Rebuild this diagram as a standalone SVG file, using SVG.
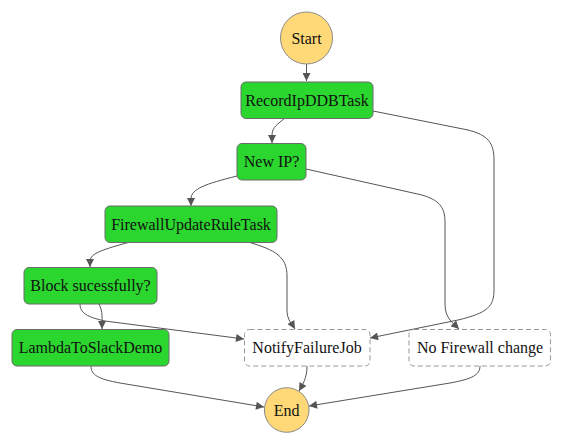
<svg xmlns="http://www.w3.org/2000/svg" width="563" height="445" viewBox="0 0 563 445">
<defs>
<marker id="arr" viewBox="0 0 10 10" refX="10" refY="5" markerUnits="userSpaceOnUse" markerWidth="9" markerHeight="8" orient="auto">
<path d="M0,0 L10,5 L0,10 z" fill="#555"/>
</marker>
<style>
.task rect{fill:#2bd62e;stroke:#6b6b6b;stroke-width:1}
.pass rect{fill:#fff;stroke:#999;stroke-width:1;stroke-dasharray:5,3}
.term circle{fill:#ffd977;stroke:#8a8a8a;stroke-width:1}
text{font-family:"Liberation Serif","Times New Roman",serif;font-size:16px;fill:#111;text-anchor:middle}
.edges path{fill:none;stroke:#555;stroke-width:1;marker-end:url(#arr)}
</style>
</defs>
<rect width="563" height="445" fill="#fff"/>
<g class="edges" id="edges">
<path d="M306.5,64 L306.5,81"/>
<path d="M285,118 C278,124 272,127 272,135 L272,143"/>
<path d="M373,111 L468,130 C488,135 494,143 494,160 L494,290 C494,306 488,313 458,320 L370,338"/>
<path d="M237,176 C205,184 191,189 191,199 L191,206"/>
<path d="M306,169 L422,195 C438,200 445,206 445,222 L445,304 C445,318 452,322 459,329"/>
<path d="M130,242 C105,249 90,253 90,261 L90,267"/>
<path d="M248,242 C276,250 287,257 287,276 L287,310 C287,320 292,324 295,329"/>
<path d="M99,304 C103,312 102,318 102,329"/>
<path d="M80,304 C80,313 87,317 105,321 L244,339"/>
<path d="M91,366 C91,375 98,379 120,383 L264,407"/>
<path d="M307,366 C307,378 303,384 299,391"/>
<path d="M480,366 C480,375 472,379 450,383 L309,406"/>
</g>
<g id="start" class="term"><circle cx="306.5" cy="38" r="26"/><text x="306.5" y="43.5">Start</text></g>
<g id="recordIpDDBTask" class="task"><rect x="241" y="82" width="132" height="36.5" rx="5"/><text x="307" y="105.5">RecordIpDDBTask</text></g>
<g id="newIP" class="task"><rect x="237" y="143.5" width="69" height="36.5" rx="5"/><text x="271.5" y="167">New IP?</text></g>
<g id="firewallUpdateRuleTask" class="task"><rect x="105" y="206" width="172" height="36.5" rx="5"/><text x="191" y="229.5">FirewallUpdateRuleTask</text></g>
<g id="blockSucessfully" class="task"><rect x="24" y="267.5" width="133" height="36.5" rx="5"/><text x="90.5" y="291">Block sucessfully?</text></g>
<g id="lambdaToSlackDemo" class="task"><rect x="12" y="329.5" width="157" height="36.5" rx="5"/><text x="90.5" y="353">LambdaToSlackDemo</text></g>
<g id="notifyFailureJob" class="pass"><rect x="244.5" y="329.5" width="125.5" height="36.5" rx="5"/><text x="307" y="353">NotifyFailureJob</text></g>
<g id="noFirewallChange" class="pass"><rect x="409" y="329.5" width="141.5" height="36.5" rx="5"/><text x="480" y="353">No Firewall change</text></g>
<g id="end" class="term"><circle cx="286.7" cy="410" r="22.3"/><text x="286.7" y="415.5">End</text></g>
</svg>
